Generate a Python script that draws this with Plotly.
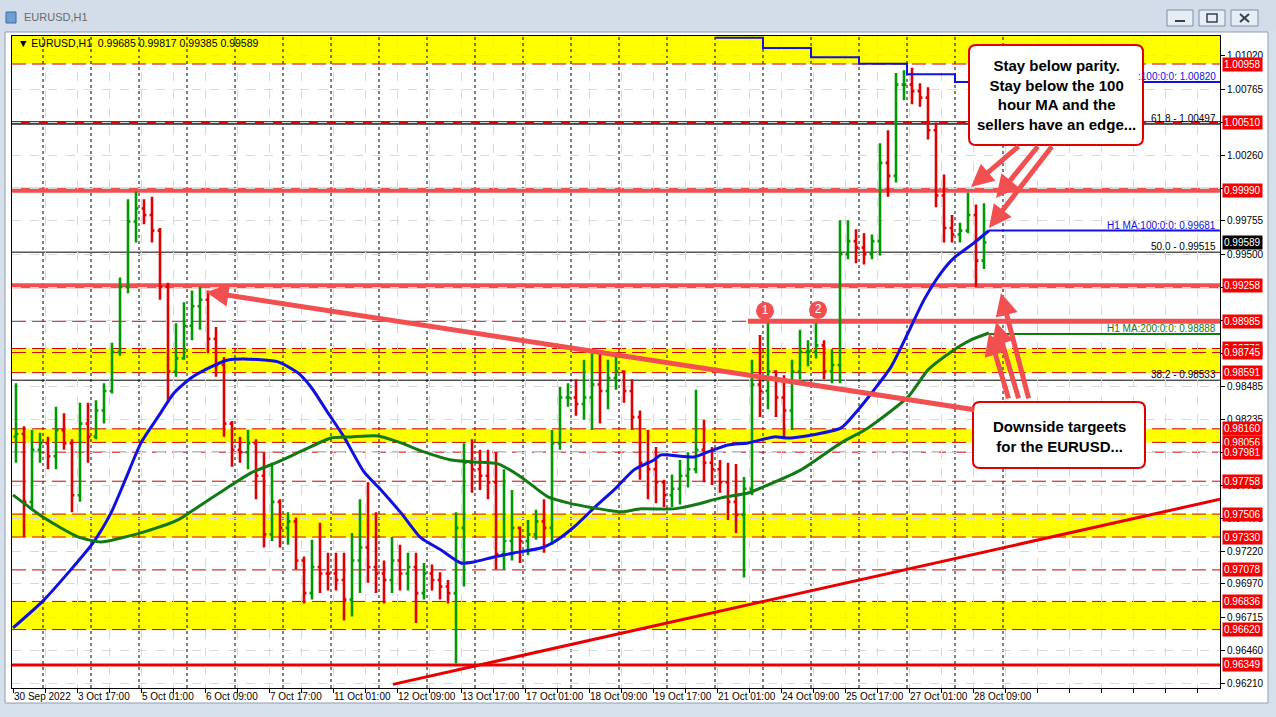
import plotly.graph_objects as go

# ---------------- data ----------------
# x axis = H1 bar index (weekends removed, MT4 style); candles shown as 4-hour blocks
block_start_hour = list(range(0, 488, 4))

open_ = [0.9810,0.9812,0.9760,0.9800,0.9805,0.9795,0.9815,0.9805,0.9765,0.9820,
 0.9810,0.9830,0.9845,0.9875,0.9925,0.9975,0.9985,0.9980,0.9968,0.9925,
 0.9860,0.9870,0.9895,0.9910,0.9915,0.9885,0.9865,0.9820,0.9800,0.9798,
 0.9805,0.9780,0.9735,0.9760,0.9740,0.9745,0.9715,0.9690,0.9710,0.9705,
 0.9705,0.9700,0.9685,0.9715,0.9725,0.9710,0.9705,0.9700,0.9715,0.9705,
 0.9710,0.9690,0.9705,0.9700,0.9695,0.9690,0.9740,0.9790,0.9785,0.9780,
 0.9775,0.9720,0.9730,0.9740,0.9730,0.9735,0.9745,0.9740,0.9805,0.9840,
 0.9840,0.9835,0.9840,0.9850,0.9845,0.9855,0.9860,0.9845,0.9825,0.9790,
 0.9785,0.9775,0.9765,0.9770,0.9780,0.9785,0.9800,0.9790,0.9785,0.9775,
 0.9760,0.9750,0.9770,0.9850,0.9845,0.9860,0.9840,0.9830,0.9860,0.9875,
 0.9875,0.9880,0.9860,0.9865,0.9950,0.9960,0.9955,0.9950,0.9960,1.0020,
 1.0010,1.0080,1.0080,1.0075,1.0070,1.0045,0.9995,0.9970,0.9965,0.9968,
 0.9980,0.9945]
high = [0.9851,0.9818,0.9815,0.9813,0.9810,0.9833,0.9828,0.9808,0.9836,0.9836,
 0.9838,0.9851,0.9882,0.9932,0.9992,0.9998,0.9992,0.9994,0.9970,0.9928,
 0.9897,0.9913,0.9922,0.9925,0.9922,0.9894,0.9871,0.9822,0.9810,0.9815,
 0.9808,0.9798,0.9790,0.9762,0.9752,0.9748,0.9718,0.9731,0.9744,0.9721,
 0.9721,0.9721,0.9736,0.9762,0.9775,0.9752,0.9715,0.9733,0.9727,0.9721,
 0.9721,0.9713,0.9712,0.9706,0.9700,0.9752,0.9805,0.9808,0.9800,0.9800,
 0.9798,0.9785,0.9769,0.9741,0.9746,0.9754,0.9762,0.9815,0.9848,0.9851,
 0.9854,0.9869,0.9874,0.9874,0.9869,0.9871,0.9861,0.9854,0.9830,0.9815,
 0.9802,0.9777,0.9781,0.9792,0.9798,0.9846,0.9823,0.9802,0.9792,0.9790,
 0.9789,0.9779,0.9869,0.9888,0.9897,0.9861,0.9857,0.9869,0.9892,0.9884,
 0.9897,0.9884,0.9877,0.9976,0.9976,0.9969,0.9966,0.9965,1.0035,1.0045,
 1.0089,1.0091,1.0093,1.0081,1.0078,1.0051,1.0011,0.9980,0.9974,0.9997,
 0.9988,0.9989]
low = [0.9790,0.9733,0.9755,0.9790,0.9785,0.9785,0.9800,0.9752,0.9760,0.9790,
 0.9808,0.9820,0.9843,0.9872,0.9920,0.9959,0.9973,0.9959,0.9915,0.9836,
 0.9856,0.9869,0.9884,0.9892,0.9874,0.9856,0.9810,0.9787,0.9790,0.9785,
 0.9762,0.9725,0.9730,0.9725,0.9727,0.9708,0.9682,0.9685,0.9690,0.9692,
 0.9692,0.9669,0.9672,0.9690,0.9698,0.9690,0.9682,0.9690,0.9692,0.9692,
 0.9667,0.9685,0.9692,0.9685,0.9682,0.9636,0.9695,0.9767,0.9769,0.9762,
 0.9708,0.9708,0.9715,0.9713,0.9719,0.9731,0.9721,0.9727,0.9800,0.9833,
 0.9826,0.9823,0.9815,0.9820,0.9831,0.9846,0.9836,0.9815,0.9777,0.9762,
 0.9759,0.9756,0.9756,0.9758,0.9771,0.9782,0.9775,0.9773,0.9767,0.9746,
 0.9736,0.9702,0.9765,0.9825,0.9831,0.9825,0.9808,0.9815,0.9854,0.9864,
 0.9870,0.9854,0.9851,0.9851,0.9946,0.9943,0.9942,0.9946,0.9949,0.9994,
 1.0005,1.0068,1.0065,1.0063,1.0038,0.9986,0.9959,0.9959,0.9959,0.9966,
 0.9925,0.99385]
close = [0.9812,0.9760,0.9800,0.9805,0.9795,0.9815,0.9805,0.9765,0.9820,0.9810,
 0.9830,0.9845,0.9875,0.9925,0.9975,0.9985,0.9980,0.9968,0.9925,0.9860,
 0.9870,0.9895,0.9910,0.9915,0.9885,0.9865,0.9820,0.9800,0.9798,0.9805,
 0.9780,0.9735,0.9760,0.9740,0.9745,0.9715,0.9690,0.9710,0.9705,0.9705,
 0.9700,0.9685,0.9715,0.9725,0.9710,0.9705,0.9700,0.9715,0.9705,0.9710,
 0.9690,0.9705,0.9700,0.9695,0.9690,0.9740,0.9790,0.9785,0.9780,0.9775,
 0.9720,0.9730,0.9740,0.9730,0.9735,0.9745,0.9740,0.9805,0.9840,0.9840,
 0.9835,0.9840,0.9850,0.9845,0.9855,0.9860,0.9845,0.9825,0.9790,0.9785,
 0.9775,0.9765,0.9770,0.9780,0.9785,0.9800,0.9790,0.9785,0.9775,0.9760,
 0.9750,0.9770,0.9850,0.9845,0.9860,0.9840,0.9830,0.9860,0.9875,0.9875,
 0.9880,0.9860,0.9865,0.9950,0.9960,0.9955,0.9950,0.9960,1.0020,1.0010,
 1.0080,1.0080,1.0075,1.0070,1.0045,0.9995,0.9970,0.9965,0.9968,0.9980,
 0.9945,0.99589]

# 100-hour MA (blue) and 200-hour MA (green)
ma100_hour = [0,15.5,40,49,55.5,64,72.5,80.5,89,99,107.5,115.5,132.5,142.5,149,157.5,165.5,175.5,184,194,
              204,214,224,230.5,240.5,250.5,264,270.5,280.5,290.5,300.5,310.5,320.5,324,340.5,347.5,357.5,367.5,380.5,389,
              414,422.5,430.5,439,447.5,455.5,464,470.5,480.5,488]
ma100_val = [0.96633,0.96848,0.97285,0.97515,0.97745,0.98052,0.98251,0.98435,0.98550,0.98635,
             0.98688,0.98696,0.98673,0.98589,0.98481,0.98282,0.98098,0.97829,0.97691,0.97515,
             0.97323,0.97231,0.97131,0.97139,0.97177,0.97208,0.97246,0.97292,0.97407,0.97553,
             0.97691,0.97845,0.97921,0.97960,0.97944,0.97983,0.98036,0.98052,0.98098,0.98090,
             0.98167,0.98305,0.98458,0.98635,0.98895,0.99149,0.99356,0.99471,0.99586,0.99681]
ma200_hour = [0,15.5,32.5,44,54,65.5,82.5,92.5,105.5,119,132.5,145.5,159,169,182.5,194,205.5,219,230.5,242.5,
              254,267.5,277.5,290.5,304,314,330.5,340.5,354,367.5,374,394,414,427.5,447.5,457.5,469,479,488]
ma200_val = [0.97653,0.97477,0.97331,0.97292,0.97323,0.97369,0.97461,0.97561,0.97691,0.97822,
             0.97906,0.97998,0.98090,0.98098,0.98105,0.98052,0.97983,0.97921,0.97906,0.97891,
             0.97791,0.97638,0.97592,0.97553,0.97523,0.97546,0.97546,0.97576,0.97630,0.97668,
             0.97707,0.97845,0.98052,0.98167,0.98405,0.98612,0.98750,0.98842,0.98895]
# daily 100 MA (step line at top)
dma_hour = [351, 375, 399, 423, 447, 471, 603.5]
dma_val = [1.0116, 1.0108, 1.0101, 1.0096, 1.0088, 1.0082, 1.0082]

# axis labels
time_labels = ["30 Sep 2022", "3 Oct 17:00", "5 Oct 01:00", "6 Oct 09:00", "7 Oct 17:00", "11 Oct 01:00",
               "12 Oct 09:00", "13 Oct 17:00", "17 Oct 01:00", "18 Oct 09:00", "19 Oct 17:00", "21 Oct 01:00",
               "24 Oct 09:00", "25 Oct 17:00", "27 Oct 01:00", "28 Oct 09:00"]
label_hours = [0, 32, 64, 96, 128, 160, 192, 224, 256, 288, 320, 352, 384, 416, 448, 480]
day_start_hours = [15, 39, 63, 87, 111, 135, 159, 183, 207, 231, 255, 279, 303, 327, 351, 375, 399, 423, 447, 471, 495]
y_ticks = [1.01020, 1.00765, 1.00510, 1.00260, 1.00005, 0.99755, 0.99500, 0.99245, 0.98990, 0.98740,
           0.98485, 0.98235, 0.97980, 0.97725, 0.97475, 0.97220, 0.96970, 0.96715, 0.96460, 0.96210]
# tick labels fully covered by the coloured price labels in the picture
y_ticks_hidden = [1.00510, 1.00005, 0.99245, 0.98990, 0.98740, 0.97980]

# horizontal levels
dashed_levels = [1.00958, 0.98985, 0.98776, 0.98745, 0.98591, 0.98160, 0.98056, 0.97981,
                 0.97758, 0.97506, 0.97330, 0.97078, 0.96836, 0.96620]
solid_levels = [1.00510, 0.96349]
thick_levels = [0.99990, 0.99258]
zones = [(1.01173, 1.00958), (0.98776, 0.98591), (0.98160, 0.98056), (0.97506, 0.97330), (0.96836, 0.96620)]
fib_levels = [1.00497, 0.99515, 0.98533]
fib_texts = ["61.8 - 1.00497", "50.0 - 0.99515", "38.2 - 0.98533"]
red_price_labels = [1.00958, 1.00510, 0.99990, 0.99258, 0.98985, 0.98776, 0.98745, 0.98591, 0.98160,
                    0.98056, 0.97981, 0.97758, 0.97506, 0.97330, 0.97078, 0.96836, 0.96620, 0.96349]
last_price = 0.99589
ma100_last, ma200_last, dma_last = 0.99681, 0.98888, 1.00820

# ---------------- layout helpers ----------------
W, H = 1276, 717
ML, MR, MT, MB = 12, 56, 36, 29
PW, PH = W - ML - MR, H - MT - MB
def px(x):
    return (x - ML) / PW
def py(y):
    return (H - MB - y) / PH

FONT = "Liberation Sans"
RED = "#e80000"
LRED = "#f25050"
DRED = "#d00000"
YEL = "#ffff00"

fig = go.Figure()
fig.add_trace(go.Ohlc(
    x=[h + 1.5 for h in block_start_hour], open=open_, high=high, low=low, close=close,
    increasing=dict(line=dict(color="#009a00", width=2.6)),
    decreasing=dict(line=dict(color="#e00000", width=2.6)),
    tickwidth=0.3, showlegend=False, hoverinfo="skip"))
fig.add_trace(go.Scatter(x=ma100_hour, y=ma100_val, mode="lines", line=dict(color="#1010e0", width=3, shape="spline", smoothing=0.6),
                         showlegend=False, hoverinfo="skip"))
fig.add_trace(go.Scatter(x=ma200_hour, y=ma200_val, mode="lines", line=dict(color="#137a13", width=3, shape="spline", smoothing=0.6),
                         showlegend=False, hoverinfo="skip"))
fig.add_trace(go.Scatter(x=dma_hour, y=dma_val, mode="lines", line=dict(color="#1010e0", width=2, shape="hv"),
                         showlegend=False, hoverinfo="skip"))

shapes = []
# window frame
shapes.append(dict(type="rect", xref="paper", yref="paper", x0=px(0), x1=px(W), y0=py(31), y1=py(0),
                   fillcolor="#d2dde9", line=dict(width=0), layer="below"))
shapes.append(dict(type="rect", xref="paper", yref="paper", x0=px(5), x1=px(1268), y0=py(703), y1=py(32),
                   fillcolor="white", line=dict(color="#8e9db0", width=1), layer="below"))
for bx in [(1167, 1193), (1199, 1225), (1231, 1258)]:
    shapes.append(dict(type="rect", xref="paper", yref="paper", x0=px(bx[0]), x1=px(bx[1]), y0=py(26), y1=py(10),
                       fillcolor="#e6edf5", line=dict(color="#7d8ea5", width=1), layer="below"))
# button glyphs
shapes.append(dict(type="line", xref="paper", yref="paper", x0=px(1175), x1=px(1185), y0=py(21), y1=py(21),
                   line=dict(color="#33404f", width=2), layer="below"))
shapes.append(dict(type="rect", xref="paper", yref="paper", x0=px(1207), x1=px(1217), y0=py(22), y1=py(14),
                   fillcolor="rgba(0,0,0,0)", line=dict(color="#33404f", width=1.5), layer="below"))
shapes.append(dict(type="line", xref="paper", yref="paper", x0=px(1240), x1=px(1249), y0=py(22), y1=py(14),
                   line=dict(color="#33404f", width=2), layer="below"))
shapes.append(dict(type="line", xref="paper", yref="paper", x0=px(1240), x1=px(1249), y0=py(14), y1=py(22),
                   line=dict(color="#33404f", width=2), layer="below"))
shapes.append(dict(type="rect", xref="paper", yref="paper", x0=px(6), x1=px(16), y0=py(23), y1=py(12),
                   fillcolor="#6f9fd0", line=dict(color="#3a6a9a", width=1), layer="below"))
# yellow zones
for top, bot in zones:
    shapes.append(dict(type="rect", xref="paper", yref="y", x0=0, x1=1, y0=bot, y1=top,
                       fillcolor=YEL, line=dict(width=0), layer="below"))
# day separators
for h in day_start_hours:
    shapes.append(dict(type="line", xref="x", yref="paper", x0=h, x1=h, y0=0, y1=1,
                       line=dict(color="black", width=1, dash="dot"), layer="between"))
# levels
for v in dashed_levels:
    shapes.append(dict(type="line", xref="paper", yref="y", x0=0, x1=1, y0=v, y1=v,
                       line=dict(color=DRED, width=1, dash="14px,6px"), layer="between"))
for v in fib_levels:
    shapes.append(dict(type="line", xref="paper", yref="y", x0=0, x1=1, y0=v, y1=v,
                       line=dict(color="black", width=1), layer="between"))
for v in solid_levels:
    shapes.append(dict(type="line", xref="paper", yref="y", x0=0, x1=1, y0=v, y1=v,
                       line=dict(color=RED, width=3), layer="between"))
for v in thick_levels:
    shapes.append(dict(type="line", xref="paper", yref="y", x0=0, x1=1, y0=v, y1=v,
                       line=dict(color=LRED, width=5), layer="between"))
shapes.append(dict(type="line", xref="x", yref="y", x0=367.5, x1=603.5, y0=0.98985, y1=0.98985,
                   line=dict(color=LRED, width=5), layer="between"))
# MA level extensions
shapes.append(dict(type="line", xref="x", yref="y", x0=488, x1=603.5, y0=ma100_last, y1=ma100_last,
                   line=dict(color="#1010e0", width=2), layer="between"))
shapes.append(dict(type="line", xref="x", yref="y", x0=488, x1=603.5, y0=ma200_last, y1=ma200_last,
                   line=dict(color="#137a13", width=2), layer="between"))
# rising trend line
shapes.append(dict(type="line", xref="x", yref="y", x0=190, x1=603.5, y0=0.9620, y1=0.9762,
                   line=dict(color=RED, width=3), layer="between"))

def rounded(x0, y0, x1, y1, r):
    pts = [("M", x0 + r, y0), ("L", x1 - r, y0), ("Q", x1, y0, x1, y0 + r), ("L", x1, y1 - r),
           ("Q", x1, y1, x1 - r, y1), ("L", x0 + r, y1), ("Q", x0, y1, x0, y1 - r), ("L", x0, y0 + r),
           ("Q", x0, y0, x0 + r, y0)]
    out = ""
    for p in pts:
        out += p[0] + " " + " ".join(f"{px(p[i]):.5f},{py(p[i+1]):.5f}" for i in range(1, len(p), 2)) + " "
    return out + "Z"

shapes.append(dict(type="path", xref="paper", yref="paper", path=rounded(969, 45, 1143, 145, 7),
                   fillcolor="white", line=dict(color="#e00000", width=2), layer="above"))
shapes.append(dict(type="path", xref="paper", yref="paper", path=rounded(973, 402, 1145, 468, 7),
                   fillcolor="white", line=dict(color="#e00000", width=2), layer="above"))

# circled markers 1, 2
fig.add_trace(go.Scatter(x=[376, 402.5], y=[0.99064, 0.99072], mode="markers+text", text=["1", "2"],
                         marker=dict(size=18, color=LRED), textfont=dict(color="white", size=12, family=FONT),
                         textposition="middle center", showlegend=False, hoverinfo="skip"))

ann = []
# x labels
for h, t in zip(label_hours, time_labels):
    ann.append(dict(x=h, y=0, xref="x", yref="paper", yanchor="top", xanchor="left", yshift=-1, xshift=-1,
                    text=t, showarrow=False, font=dict(family=FONT, size=10, color="black")))
# on-chart texts
for v, t in zip(fib_levels, fib_texts):
    ann.append(dict(x=1, y=v, xref="paper", yref="y", xanchor="right", yanchor="bottom", xshift=-2, yshift=-2,
                    text=t, showarrow=False, font=dict(family=FONT, size=10, color="black")))
ann.append(dict(x=1, y=ma100_last, xref="paper", yref="y", xanchor="right", yanchor="bottom", xshift=-2, yshift=-2,
                text="H1 MA:100:0:0: 0.99681", showarrow=False, font=dict(family=FONT, size=10, color="#1010e0")))
ann.append(dict(x=1, y=ma200_last, xref="paper", yref="y", xanchor="right", yanchor="bottom", xshift=-2, yshift=-2,
                text="H1 MA:200:0:0: 0.98888", showarrow=False, font=dict(family=FONT, size=10, color="#137a13")))
ann.append(dict(x=1, y=dma_last, xref="paper", yref="y", xanchor="right", yanchor="bottom", xshift=-2, yshift=-2,
                text=":100:0:0: 1.00820", showarrow=False, font=dict(family=FONT, size=10, color="#1010e0")))
# right price labels
for v in red_price_labels:
    ann.append(dict(x=1, y=v, xref="paper", yref="y", xanchor="left", yanchor="middle", xshift=2,
                    text=f"{v:.5f}", showarrow=False, bgcolor="#f40000", borderpad=1,
                    font=dict(family=FONT, size=10, color="white")))
ann.append(dict(x=1, y=last_price, xref="paper", yref="y", xanchor="left", yanchor="middle", xshift=2,
                text=f"{last_price:.5f}", showarrow=False, bgcolor="black", borderpad=1,
                font=dict(family=FONT, size=10, color="white")))
# arrows (head x,y  <-  tail ax,ay)
arrows = [((96.5, 0.99210), (481.5, 0.98305)),
          ((479, 1.00015), (503.5, 1.00337)), ((491.5, 0.99931), (513, 1.00337)), ((488, 0.99701), (520, 1.00337)),
          ((494, 0.99202), (508, 0.98382)), ((491.5, 0.98980), (503, 0.98382)), ((488, 0.98895), (498, 0.98382))]
for (hx, hy), (tx, ty) in arrows:
    ann.append(dict(x=hx, y=hy, ax=tx, ay=ty, xref="x", yref="y", axref="x", ayref="y", text="",
                    showarrow=True, arrowhead=2, arrowsize=0.9, arrowwidth=5, arrowcolor=LRED, standoff=0))
# box texts
ann.append(dict(x=px(1056), y=py(95), xref="paper", yref="paper", xanchor="center", yanchor="middle",
                text="<b>Stay below parity.<br>Stay below the 100<br>hour MA and the<br>sellers have an edge...</b>",
                showarrow=False, align="center", font=dict(family=FONT, size=15, color="black")))
ann.append(dict(x=px(1059), y=py(436), xref="paper", yref="paper", xanchor="center", yanchor="middle",
                text="<b>Downside targeets<br>for the EURUSD...</b>",
                showarrow=False, align="center", font=dict(family=FONT, size=15, color="black")))
# header texts
ann.append(dict(x=px(16), y=py(43), xref="paper", yref="paper", xanchor="left", yanchor="middle",
                text="▼ EURUSD,H1\u00a0\u00a00.99685 0.99817 0.99385 0.99589", showarrow=False,
                font=dict(family=FONT, size=10.5, color="black")))
ann.append(dict(x=px(22), y=py(17), xref="paper", yref="paper", xanchor="left", yanchor="middle",
                text="EURUSD,H1", showarrow=False, font=dict(family=FONT, size=11, color="#6a6a6a")))

fig.update_layout(
    width=W, height=H, margin=dict(l=ML, r=MR, t=MT, b=MB),
    paper_bgcolor="#d6e0eb", plot_bgcolor="white",
    shapes=shapes, annotations=ann, showlegend=False, hovermode=False,
    xaxis=dict(range=[-0.5, 603.5], tickvals=list(range(0, 604, 16)), showticklabels=False,
               ticks="outside", ticklen=4, tickcolor="black", showgrid=True, gridcolor="#d9d9d9", griddash="dash",
               showline=True, linecolor="black", linewidth=1, mirror=True, zeroline=False,
               rangeslider=dict(visible=False), fixedrange=True),
    yaxis=dict(range=[0.96172, 1.01173], side="right", tickvals=y_ticks,
               ticktext=["" if v in y_ticks_hidden else f"{v:.5f}" for v in y_ticks],
               ticks="outside", ticklen=4, tickcolor="black", tickfont=dict(family=FONT, size=10, color="black"),
               showgrid=True, gridcolor="#d9d9d9", griddash="dash",
               showline=True, linecolor="black", linewidth=1, mirror=True, zeroline=False, fixedrange=True),
)
fig.write_html("out.html", config={"displayModeBar": False},
               post_script="document.body.style.margin='0px';document.body.style.overflow='hidden';")
